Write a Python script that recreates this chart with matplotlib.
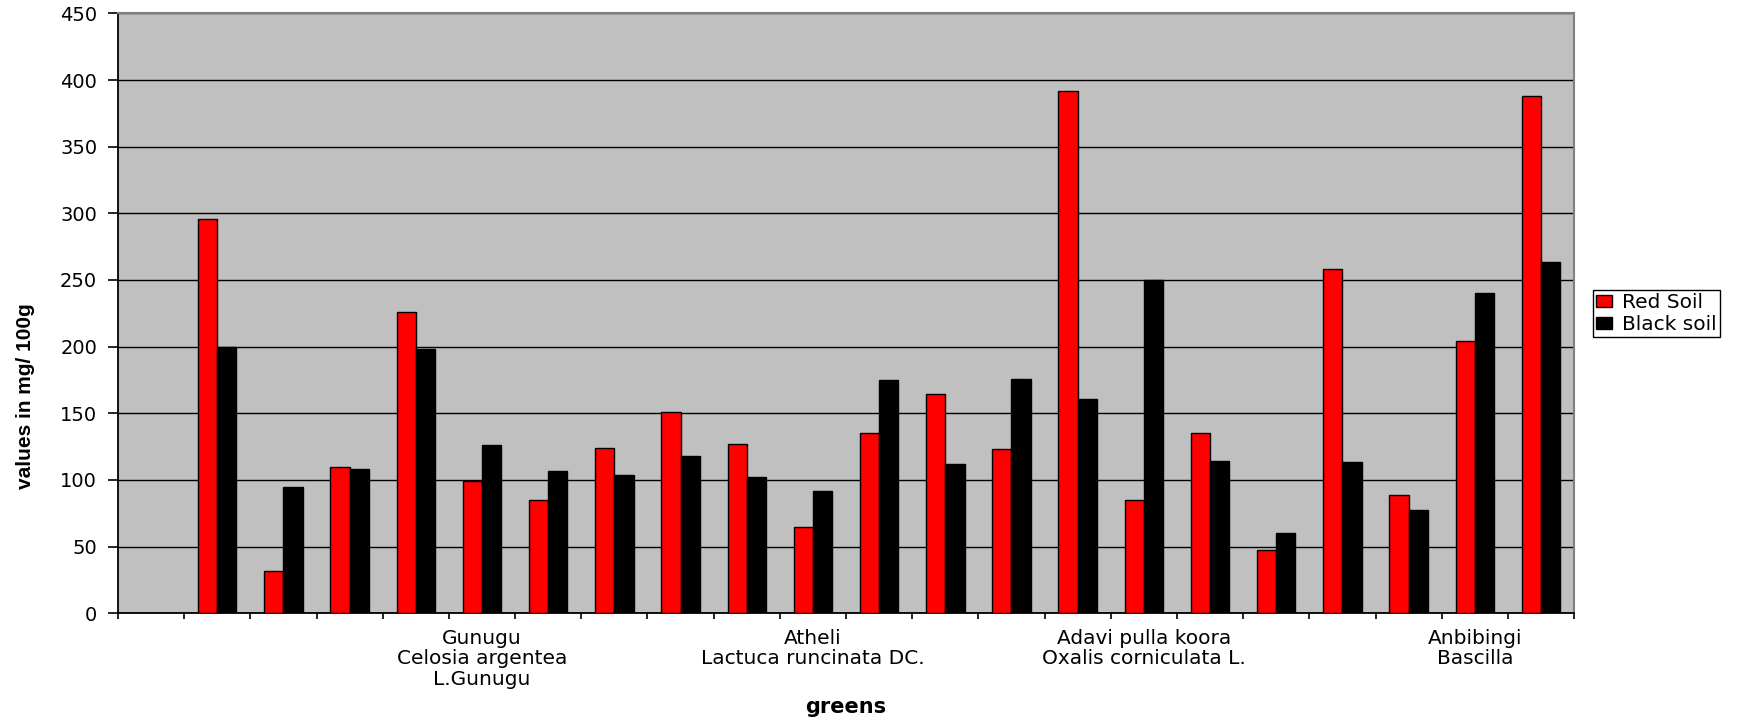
import numpy as np
import matplotlib
matplotlib.use("Agg")
import matplotlib.pyplot as plt

# Category slots along the x axis (only every fifth name is printed)
tick_labels = [
    "", "", "", "", "",
    "Gunugu\nCelosia argentea\nL.Gunugu", "", "", "", "",
    "Atheli\nLactuca runcinata DC.", "", "", "", "",
    "Adavi pulla koora\nOxalis corniculata L.", "", "", "", "",
    "Anbibingi\nBascilla", "",
]

series_names = ["Red Soil", "Black soil"]

red_soil = [np.nan, 296, 32, 110, 226, 99, 85, 124, 151, 127, 64.5,
            135, 164.5, 123.5, 391.5, 85, 135, 47.5, 258, 88.5, 204.5, 388]
black_soil = [np.nan, 199.5, 94.5, 108, 198, 126, 106.5, 104, 118, 102, 92,
              175, 112, 175.5, 161, 250, 114.5, 60.5, 113.5, 77.5, 240, 263.5]

y_ticks = [0, 50, 100, 150, 200, 250, 300, 350, 400, 450]

fig = plt.figure(figsize=(17.48, 7.17), dpi=100)
ax = fig.add_axes([0.0675, 0.1446, 0.9005 - 0.0675, 0.9814 - 0.1446])
ax.set_facecolor("#C0C0C0")

x = np.arange(len(tick_labels))
w = 0.29
ax.bar(x - w / 2, red_soil, width=w, color="#FF0000", edgecolor="black",
       linewidth=1.0, label=series_names[0], zorder=3)
ax.bar(x + w / 2, black_soil, width=w, color="#000000", edgecolor="black",
       linewidth=1.0, label=series_names[1], zorder=3)

ax.set_xlim(-0.5, len(tick_labels) - 0.5)
ax.set_ylim(0, 450)
ax.set_yticks(y_ticks)
ax.set_yticklabels([str(v) for v in y_ticks], fontsize=14, family="DejaVu Sans")
ax.yaxis.grid(True, color="black", linewidth=1.0, zorder=1)
ax.set_axisbelow(True)

# category boundaries carry the tick marks, names sit at slot centres
ax.set_xticks(np.arange(-0.5, len(tick_labels), 1.0))
ax.set_xticklabels([])
ax.set_xticks(x, minor=True)
ax.set_xticklabels(tick_labels, minor=True, fontsize=14.5,
                   family="DejaVu Sans", linespacing=1.1)
ax.tick_params(axis="x", which="major", length=4, width=1.2, direction="out",
               color="black")
ax.tick_params(axis="x", which="minor", length=0, pad=11)
ax.tick_params(axis="y", length=7, width=1.2, direction="out", pad=8)

for side in ("left", "bottom"):
    ax.spines[side].set_color("black")
    ax.spines[side].set_linewidth(1.3)
for side in ("top", "right"):
    ax.spines[side].set_color("#808080")
    ax.spines[side].set_linewidth(1.5)

fig.text(0.0148, 1 - 396 / 717, "values in mg/ 100g", rotation=90,
         ha="center", va="center", fontsize=15, fontweight="bold",
         family="Liberation Sans")
fig.text(846 / 1748, 1 - 707 / 717, "greens", ha="center", va="center",
         fontsize=15, fontweight="bold", family="DejaVu Sans")

leg = ax.legend(loc="upper left", bbox_to_anchor=(1593 / 1748, 1 - 290 / 717),
                bbox_transform=fig.transFigure, borderaxespad=0,
                fancybox=False, edgecolor="black", framealpha=1,
                prop={"family": "DejaVu Sans", "size": 14.5},
                handlelength=0.8, handleheight=0.6, handletextpad=0.5,
                borderpad=0.15, labelspacing=0.15)
leg.get_frame().set_linewidth(1.0)

fig.savefig("out.png", dpi=100, facecolor="white")
